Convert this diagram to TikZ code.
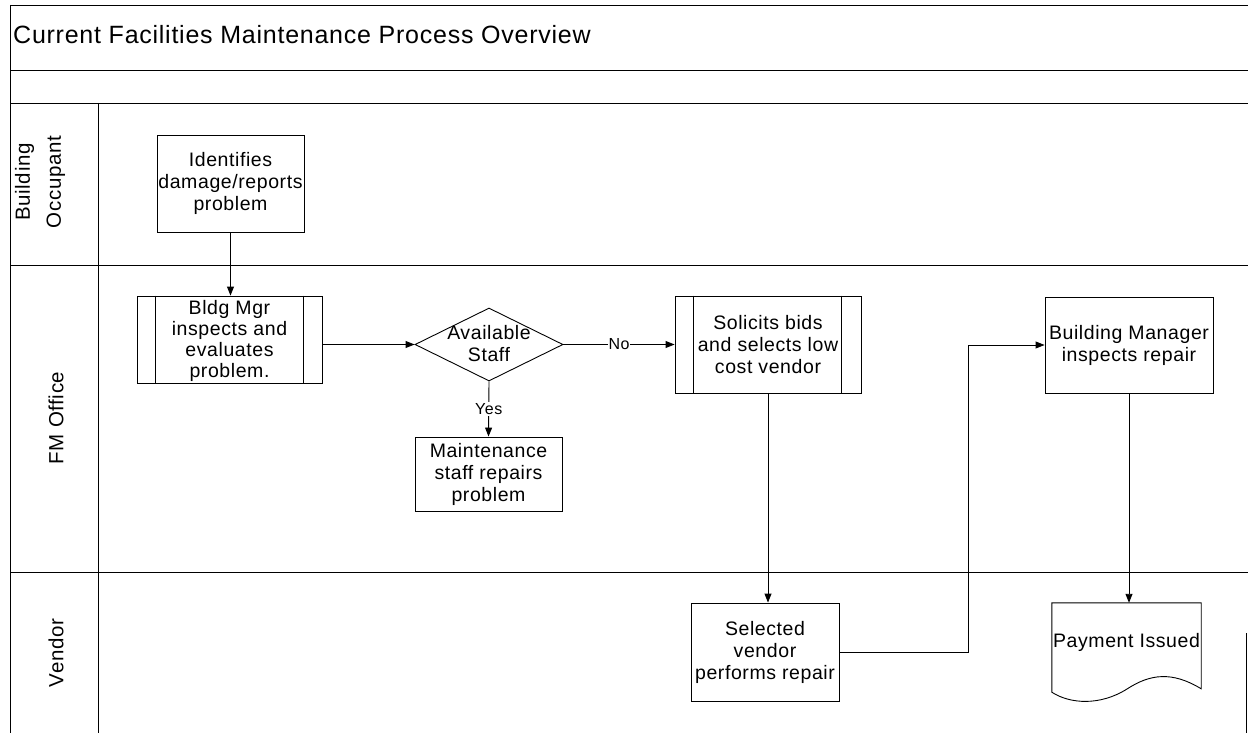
\documentclass[tikz,border=0pt]{standalone}
\usepackage{fontspec}
\setmainfont{Liberation Sans}[LetterSpace=3]
\usetikzlibrary{arrows.meta,shapes.geometric,calc}
\begin{document}
\begin{tikzpicture}[x=1pt,y=-1pt,
  lane/.style={line width=0.9pt,draw=black},
  box/.style={draw,line width=0.9pt,rectangle,inner sep=0pt,align=center,
    font=\fontsize{19.5}{22}\selectfont},
  txt/.style={inner sep=0pt,align=center,font=\fontsize{19.5}{22}\selectfont},
  lanetxt/.style={inner sep=0pt,align=center,rotate=90,font=\fontsize{20.5}{31}\selectfont},
  lbl/.style={fill=white,inner sep=1pt,font=\fontsize{16}{18}\selectfont},
  arr/.style={line width=0.9pt,-{Triangle[length=9pt,width=7pt]}},
  ln/.style={line width=0.9pt}]
\useasboundingbox (0,0) rectangle (1248,733);
% frame / lanes
\draw[lane] (10,5) -- (1248,5);
\draw[lane] (10,70) -- (1248,70);
\draw[lane] (10,103) -- (1248,103);
\draw[lane] (10,265) -- (1248,265);
\draw[lane] (10,572) -- (1248,572);
\draw[lane] (10,5) -- (10,733);
\draw[lane] (98,103) -- (98,733);
\draw[lane] (1246,633) -- (1246,733);
% title
\node[anchor=west,inner sep=0pt,font=\fontsize{25}{30}\selectfont] (title) at (13,35) {Current Facilities Maintenance Process Overview};
% lane labels
\node[lanetxt] (l1) at (40,182) {Building\\Occupant};
\node[lanetxt] (l2) at (56,418) {FM Office};
\node[lanetxt] (l3) at (56,653) {Vendor};
% nodes
\node[box,minimum width=147pt,minimum height=97pt] (occ) at (230.5,183.5) {Identifies\\damage/reports\\problem};
\node[box,minimum width=185pt,minimum height=87pt] (bm) at (229.5,339.5) {};
\node[txt,font=\fontsize{19.5}{21}\selectfont] (bmt) at (229.5,340.5) {Bldg Mgr\\inspects and\\evaluates\\problem.};
\draw[ln] ([xshift=19pt]bm.north west) -- ([xshift=19pt]bm.south west);
\draw[ln] ([xshift=-19pt]bm.north east) -- ([xshift=-19pt]bm.south east);
\node[draw,line width=0.9pt,diamond,minimum width=148pt,minimum height=73pt,inner sep=0pt] (dia) at (489,344.5) {};
\node[txt] (diat) at (489,344) {Available\\Staff};
\node[box,minimum width=147pt,minimum height=74pt] (maint) at (488.5,474) {Maintenance\\staff repairs\\problem};
\node[box,minimum width=186pt,minimum height=97pt] (sol) at (768,344.5) {Solicits bids\\and selects low\\cost vendor};
\draw[ln] ([xshift=19pt]sol.north west) -- ([xshift=19pt]sol.south west);
\draw[ln] ([xshift=-20pt]sol.north east) -- ([xshift=-20pt]sol.south east);
\node[box,minimum width=148pt,minimum height=98pt] (sel) at (765,652) {Selected\\vendor\\performs repair};
\node[box,minimum width=168pt,minimum height=96pt] (bmi) at (1129,345) {Building Manager\\inspects repair};
% document shape
\node[minimum width=149pt,minimum height=99pt,inner sep=0pt] (pay) at (1126.5,652.5) {};
\draw[ln] (pay.south west) ++(0,-10) coordinate (pbl)
  (pay.north west) -- (pay.north east) -- ++(0,86) coordinate (pbr)
  .. controls (1172,671) and (1150,674) .. (1127,689)
  .. controls (1100,706) and (1070,704) .. (pbl) -- cycle;
\node[txt] (payt) at (1126.5,642) {Payment Issued};
% connectors
\draw[arr] (occ.south) -- (occ.south |- bm.north);
\draw[arr] (bm.east |- dia.west) -- (dia.west);
\draw[arr] (dia.east) -- node[lbl] (no) {No} (sol.west);
\draw[arr] (dia.south) -- node[lbl,pos=0.5] (yes) {Yes} (maint.north);
\draw[arr] (sol.south) -- (sol.south |- sel.north);
\coordinate (turn) at (968,0);
\draw[arr] (sel.east) -- (turn |- sel.east) -- (turn |- bmi.west) -- (bmi.west);
\draw[arr] (bmi.south) -- (bmi.south |- pay.north);
\end{tikzpicture}
\end{document}
